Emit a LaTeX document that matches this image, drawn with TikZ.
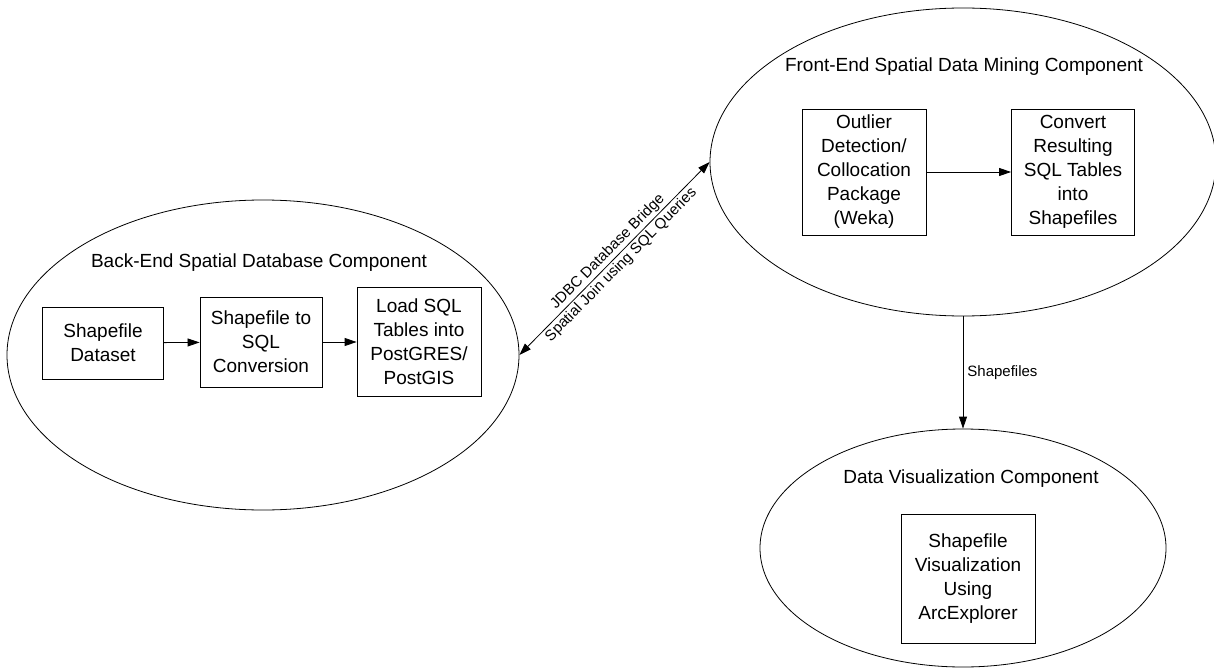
\documentclass[tikz,border=0pt]{standalone}
\usepackage{fontspec}
\setmainfont{Liberation Sans}
\usetikzlibrary{shapes.geometric,arrows.meta}
\begin{document}
\begin{tikzpicture}[x=1pt,y=-1pt,
  comp/.style={draw, ellipse, inner sep=0pt, line width=0.8pt},
  box/.style={draw, align=center, inner sep=0pt, line width=0.8pt,
              font=\fontsize{19}{24}\selectfont},
  ttl/.style={font=\fontsize{19}{24}\selectfont},
  lbl/.style={font=\fontsize{15}{18}\selectfont},
  arr/.style={-{Triangle[length=12pt,width=8pt]}, line width=0.8pt},
  dblarr/.style={{Triangle[length=12pt,width=8pt]}-{Triangle[length=12pt,width=8pt]}, line width=0.8pt}]
\useasboundingbox (0,0) rectangle (1214,671);

% component ellipses
\node[comp, minimum width=512pt, minimum height=310pt] (be) at (263,355) {};
\node[comp, minimum width=506pt, minimum height=308pt] (fe) at (963,162) {};
\node[comp, minimum width=406pt, minimum height=238pt] (dv) at (963,548) {};

% component titles
\node[ttl] (tbe) at (259,263) {Back-End Spatial Database Component};
\node[ttl] (tfe) at (964,67) {Front-End Spatial Data Mining Component};
\node[ttl] (tdv) at (971,479) {Data Visualization Component};

% back-end steps
\node[box, minimum width=121pt, minimum height=72pt] (b1) at (103,343) {Shapefile\\Dataset};
\node[box, minimum width=122pt, minimum height=90pt] (b2) at (261,342) {Shapefile to\\SQL\\Conversion};
\node[box, minimum width=124pt, minimum height=109pt] (b3) at (419,342) {Load SQL\\Tables into\\PostGRES/\\PostGIS};

% front-end steps
\node[box, minimum width=124pt, minimum height=126pt] (f1) at (864,172) {Outlier\\Detection/\\Collocation\\Package\\(Weka)};
\node[box, minimum width=123pt, minimum height=126pt] (f2) at (1073,172) {Convert\\Resulting\\SQL Tables\\into\\Shapefiles};

% visualization step
\node[box, minimum width=134pt, minimum height=129pt] (v1) at (968,579) {Shapefile\\Visualization\\Using\\ArcExplorer};

% connectors
\draw[arr] (b1) -- (b2);
\draw[arr] (b2) -- (b3);
\draw[arr] (f1) -- (f2);
\draw[dblarr]
  (be.east) -- node[sloped, above, lbl, inner sep=2pt] (jdbc) {JDBC Database Bridge}
               node[sloped, below, lbl, inner sep=2pt] (join) {Spatial Join using SQL Queries} (fe.west);
\draw[arr] (fe.south) -- node[right, lbl, inner sep=4pt] (shp) {Shapefiles} (dv.north);
\end{tikzpicture}
\end{document}
